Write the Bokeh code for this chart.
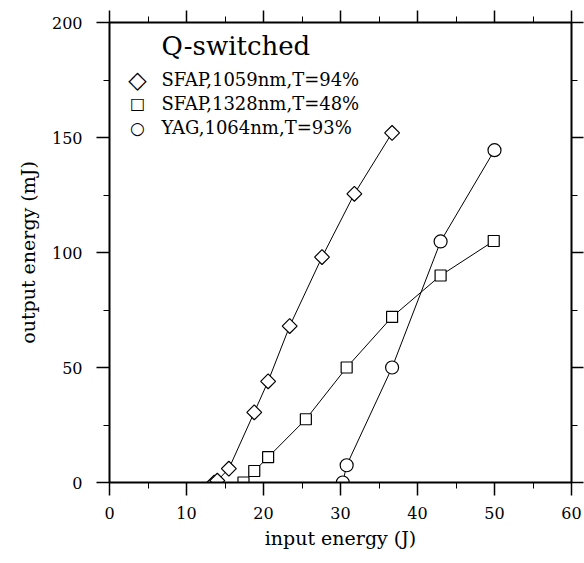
from bokeh.plotting import figure
from bokeh.models import (LinearAxis, SingleIntervalTicker, Label, Range1d,
                          CustomJSTickFormatter)
from bokeh.embed import file_html
from bokeh.resources import INLINE

# ---- data ----
sfap1059_x = [13.6, 14.0, 15.5, 18.8, 20.6, 23.4, 27.6, 31.8, 36.7]
sfap1059_y = [0.0, 0.8, 6.0, 30.5, 44.0, 68.0, 98.0, 125.5, 152.0]

sfap1328_x = [17.4, 18.8, 20.6, 25.5, 30.8, 36.7, 43.0, 49.9]
sfap1328_y = [0.0, 5.0, 11.0, 27.5, 50.0, 72.0, 90.0, 105.0]

yag1064_x = [30.3, 30.8, 36.7, 43.0, 50.0]
yag1064_y = [0.0, 7.5, 50.0, 104.8, 144.5]

series_labels = ["SFAP,1059nm,T=94%", "SFAP,1328nm,T=48%", "YAG,1064nm,T=93%"]
legend_symbols = ["\u25C7", "\u25A1", "\u25CB"]
legend_symbol_sizes = ["24px", "16px", "17px"]
legend_title = "Q-switched"
x_label = "input energy (J)"
y_label = "output energy (mJ)"

FONT = "DejaVu Serif"

p = figure(width=584, height=563, x_range=Range1d(0, 60), y_range=Range1d(0, 200),
           output_backend="svg", toolbar_location=None,
           min_border_left=109, min_border_right=13, min_border_top=22,
           min_border_bottom=81)
p.xgrid.visible = False
p.ygrid.visible = False
p.outline_line_color = None
p.background_fill_color = "white"
p.border_fill_color = "white"

bottom = p.below[0]
left = p.left[0]
bottom.ticker = SingleIntervalTicker(interval=10, num_minor_ticks=2)
left.ticker = SingleIntervalTicker(interval=50, num_minor_ticks=2)

blank = CustomJSTickFormatter(code="return ''")
top = LinearAxis(ticker=SingleIntervalTicker(interval=10, num_minor_ticks=2),
                 formatter=blank)
right = LinearAxis(ticker=SingleIntervalTicker(interval=50, num_minor_ticks=2),
                   formatter=blank)
p.add_layout(top, "above")
p.add_layout(right, "right")

for ax in [bottom, left, top, right]:
    ax.axis_line_width = 2
    ax.axis_line_color = "black"
    ax.major_tick_line_width = 1.5
    ax.minor_tick_line_width = 1
    ax.major_tick_line_color = "black"
    ax.minor_tick_line_color = "black"
    ax.major_tick_out = 13
    ax.major_tick_in = 0
    ax.minor_tick_out = 6
    ax.minor_tick_in = 0
    ax.major_label_text_font = FONT
    ax.major_label_text_font_size = "16px"
    ax.major_label_text_color = "black"
    ax.axis_label_text_font = FONT
    ax.axis_label_text_font_size = "19px"
    ax.axis_label_text_font_style = "normal"
    ax.axis_label_text_color = "black"

for ax in [top, right]:
    ax.major_label_text_font_size = "2px"
    ax.major_label_standoff = 0
    ax.major_tick_out = 12

bottom.major_label_standoff = 11
left.major_label_standoff = 14
bottom.axis_label = x_label
left.axis_label = y_label
bottom.axis_label_standoff = 5
left.axis_label_standoff = 10

# lines
for xs, ys in [(sfap1059_x, sfap1059_y), (sfap1328_x, sfap1328_y), (yag1064_x, yag1064_y)]:
    p.line(xs, ys, line_color="black", line_width=1)

p.scatter(sfap1059_x, sfap1059_y, marker="square", angle=0.785398, size=10.5,
          fill_color="white", line_color="black", line_width=1.2)
p.scatter(sfap1328_x, sfap1328_y, marker="square", size=11,
          fill_color="white", line_color="black", line_width=1.2)
p.scatter(yag1064_x, yag1064_y, marker="circle", size=13,
          fill_color="white", line_color="black", line_width=1.2)

# legend (screen units, relative to the plot frame)
p.add_layout(Label(x=52, y=437, x_units="screen", y_units="screen", text=legend_title,
                   text_font=FONT, text_font_size="26px", text_color="black",
                   text_baseline="middle"))
for i, (sym, sz, lab) in enumerate(zip(legend_symbols, legend_symbol_sizes, series_labels)):
    yy = 403 - 24 * i
    p.add_layout(Label(x=28, y=yy, x_units="screen", y_units="screen", text=sym,
                       text_font="DejaVu Sans", text_font_size=sz,
                       text_color="black", text_align="center",
                       text_baseline="middle"))
    p.add_layout(Label(x=52, y=yy, x_units="screen", y_units="screen", text=lab,
                       text_font=FONT, text_font_size="18px", text_color="black",
                       text_baseline="middle"))

open("out.html", "w").write(file_html(p, INLINE))
